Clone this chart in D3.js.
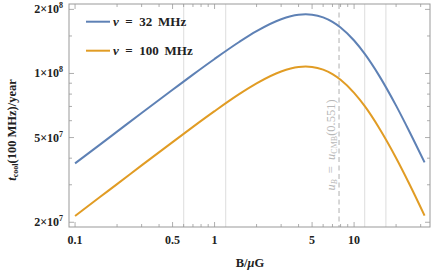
<!DOCTYPE html>
<html>
<head>
<meta charset="utf-8">
<script src="https://cdn.jsdelivr.net/npm/d3@7"></script>
<style>
  html, body { margin: 0; padding: 0; background: #fff; }
  svg text { font-family: "Liberation Serif", "DejaVu Serif", serif; }
</style>
</head>
<body>
<svg id="chart" width="436" height="273"></svg>
<script>
// ---- data ----
const bField = [0.1, 0.15, 0.2, 0.3, 0.5, 0.7, 1, 1.5, 2, 3, 4, 4.5, 5, 6, 7, 8, 10, 12, 15, 20, 25, 32];
const tcool32 = [3.78e7, 4.62e7, 5.33e7, 6.52e7, 8.38e7, 9.88e7, 1.17e8, 1.405e8, 1.58e8, 1.797e8, 1.886e8, 1.895e8, 1.888e8, 1.835e8, 1.748e8, 1.645e8, 1.428e8, 1.229e8, 9.85e7, 7.06e7, 5.31e7, 3.82e7];
const tcool100 = [2.14e7, 2.62e7, 3.02e7, 3.7e7, 4.76e7, 5.61e7, 6.65e7, 7.99e7, 8.98e7, 1.021e8, 1.072e8, 1.077e8, 1.073e8, 1.042e8, 9.93e7, 9.34e7, 8.11e7, 6.98e7, 5.59e7, 4.01e7, 3.01e7, 2.15e7];
const series = [
  { name: '32 MHz', color: '#5E81B5', values: tcool32 },
  { name: '100 MHz', color: '#E19C24', values: tcool100 }
];
const gridB = [0.6, 1.2, 11.9, 16.9];   // light vertical lines
const ucmbB = 7.8;                       // u_B = u_CMB(z=0.551)
const xMajor = [0.1, 0.5, 1, 5, 10];
const xMinor = [0.2, 0.3, 0.4, 0.6, 0.7, 0.8, 0.9, 2, 3, 4, 6, 7, 8, 9, 20, 30];
const yMajor = [2e7, 5e7, 1e8, 2e8];
const yMinor = [3e7, 4e7, 6e7, 7e7, 8e7, 9e7, 1.5e8];

// ---- layout ----
const L = 69, R = 430, T = 4, B = 227;
const svg = d3.select('#chart');
const x = d3.scaleLog().domain([0.0905, 35]).range([L, R]);
const y = d3.scaleLog().domain([1.9e7, 2.12e8]).range([B, T]);
const frame = '#999';

// vertical reference lines
svg.append('g').selectAll('line').data(gridB).join('line')
  .attr('x1', d => x(d)).attr('x2', d => x(d))
  .attr('y1', T).attr('y2', B)
  .attr('stroke', '#e4e4e4').attr('stroke-width', 1.3);

svg.append('line')
  .attr('x1', x(ucmbB)).attr('x2', x(ucmbB))
  .attr('y1', T).attr('y2', B)
  .attr('stroke', '#c6c6c6').attr('stroke-width', 1.4)
  .attr('stroke-dasharray', '5,3.5');

// rotated label near the dashed line
const lab = svg.append('text')
  .attr('transform', `translate(${x(ucmbB) - 4.5},145) rotate(-90)`)
  .attr('text-anchor', 'middle')
  .attr('font-size', 12.5).attr('fill', '#b8b8b8');
lab.append('tspan').attr('font-style', 'italic').text('u');
lab.append('tspan').attr('font-size', 8).attr('dy', 2).attr('font-style', 'italic').text('B');
lab.append('tspan').attr('dy', -2).text('\u2002=\u2002');
lab.append('tspan').attr('font-style', 'italic').text('u');
lab.append('tspan').attr('font-size', 8).attr('dy', 2).text('CMB');
lab.append('tspan').attr('dy', -2).text('(0.551)');

// curves
const line = d3.line()
  .x((d, i) => x(bField[i]))
  .y(d => y(d))
  .curve(d3.curveMonotoneX);

svg.append('g').selectAll('path').data(series).join('path')
  .attr('d', s => line(s.values))
  .attr('fill', 'none')
  .attr('stroke', s => s.color)
  .attr('stroke-width', 2);

// frame
svg.append('rect')
  .attr('x', L).attr('y', T).attr('width', R - L).attr('height', B - T)
  .attr('fill', 'none').attr('stroke', frame).attr('stroke-width', 1);

// ticks on all four sides, pointing inward
const tk = svg.append('g').attr('stroke', frame).attr('stroke-width', 0.8);
function xTicks(vals, len) {
  vals.forEach(v => {
    tk.append('line').attr('x1', x(v)).attr('x2', x(v)).attr('y1', B).attr('y2', B - len);
    tk.append('line').attr('x1', x(v)).attr('x2', x(v)).attr('y1', T).attr('y2', T + len);
  });
}
function yTicks(vals, len) {
  vals.forEach(v => {
    tk.append('line').attr('y1', y(v)).attr('y2', y(v)).attr('x1', L).attr('x2', L + len);
    tk.append('line').attr('y1', y(v)).attr('y2', y(v)).attr('x1', R).attr('x2', R - len);
  });
}
xTicks(xMajor, 5); xTicks(xMinor, 3);
yTicks(yMajor, 5); yTicks(yMinor, 3);

// tick labels
svg.append('g').selectAll('text').data(xMajor).join('text')
  .attr('x', d => x(d)).attr('y', 244)
  .attr('text-anchor', 'middle')
  .attr('font-size', 12).attr('font-weight', 'bold').attr('fill', '#222')
  .text(d => d3.format('~g')(d));

const yl = svg.append('g').selectAll('text').data(yMajor).join('text')
  .attr('x', L - 6).attr('y', d => y(d) + 4)
  .attr('text-anchor', 'end')
  .attr('font-size', 12).attr('font-weight', 'bold').attr('fill', '#222');
yl.append('tspan').text(d => {
  const e = Math.floor(Math.log10(d));
  return Math.round(d / Math.pow(10, e)) + '\u00d710';
});
yl.append('tspan').attr('font-size', 8).attr('dy', -5)
  .text(d => Math.floor(Math.log10(d)));

// axis titles
const xt = svg.append('text')
  .attr('x', 250).attr('y', 267)
  .attr('text-anchor', 'middle')
  .attr('font-size', 12.5).attr('font-weight', 'bold').attr('fill', '#222');
xt.append('tspan').text('B/');
xt.append('tspan').attr('font-style', 'italic').text('\u03bc');
xt.append('tspan').text('G');

const yt = svg.append('text')
  .attr('transform', 'translate(16,130) rotate(-90)')
  .attr('text-anchor', 'middle')
  .attr('font-size', 12.5).attr('font-weight', 'bold').attr('fill', '#222');
yt.append('tspan').attr('font-style', 'italic').text('t');
yt.append('tspan').attr('font-size', 8).attr('dy', 2).text('cool');
yt.append('tspan').attr('dy', -2).text('(100 MHz)/year');

// legend
const lg = svg.append('g').selectAll('g').data(series).join('g')
  .attr('transform', (d, i) => `translate(86,${21.7 + i * 29})`);
lg.append('line').attr('x1', 0).attr('x2', 24)
  .attr('stroke', d => d.color).attr('stroke-width', 2);
const lt = lg.append('text').attr('x', 27).attr('y', 4.5)
  .attr('font-size', 13).attr('font-weight', 'bold').attr('fill', '#222');
lt.append('tspan').attr('font-style', 'italic').text('\u03bd');
lt.append('tspan').text(d => '\u2002=\u2002' + d.name.replace(' ', '\u2009 '));
</script>
</body>
</html>
